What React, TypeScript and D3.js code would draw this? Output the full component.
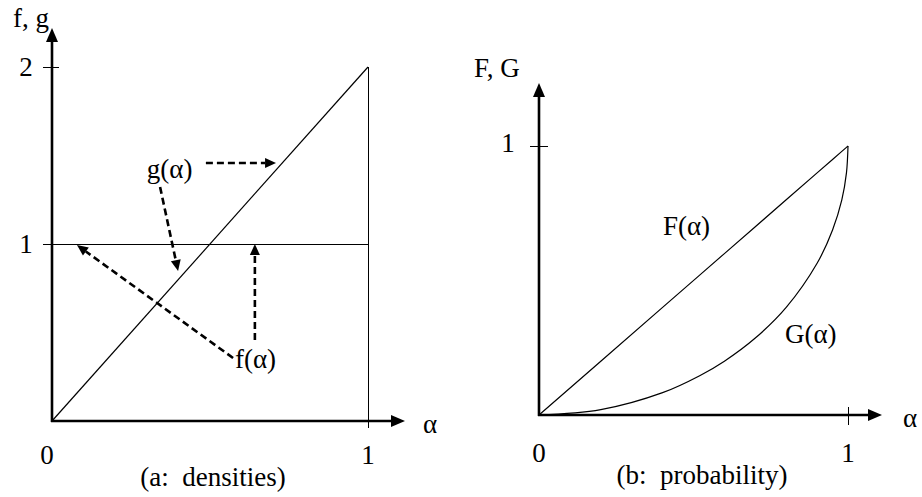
import React from "react";
import * as d3 from "d3";

// ---- data ----
// panel (a): densities
const densityAlpha = [0, 1];
const fValues = [1, 1];
const gValues = [0, 2];
const yTicksA = [1, 2];
const xTicksA = [0, 1];
// panel (b): cumulative probability
const cdfAlpha = [0, 0.2, 0.4, 0.52, 0.6, 0.7, 0.8, 0.9, 0.95, 0.98, 0.995, 1];
const Fvalues = [0, 0.2, 0.4, 0.52, 0.6, 0.7, 0.8, 0.9, 0.95, 0.98, 0.995, 1];
const Gvalues = [0, 0.02, 0.083, 0.146, 0.2, 0.286, 0.4, 0.564, 0.688, 0.8, 0.9, 1];
const yTicksB = [1];
const xTicksB = [0, 1];
// annotation arrows in data units: [fromAlpha, fromVal, toAlpha, toVal]
const arrowsA = [
  [0.487, 1.458, 0.709, 1.458],
  [0.342, 1.322, 0.399, 0.847],
  [0.642, 0.458, 0.642, 1.0],
  [0.573, 0.356, 0.079, 0.994],
];
const labelsA = [
  { text: "g(α)", a: 0.3, v: 1.373 },
  { text: "f(α)", a: 0.579, v: 0.3 },
];
const labelsB = [
  { text: "F(α)", a: 0.401, v: 0.669 },
  { text: "G(α)", a: 0.796, v: 0.268 },
];

const FONT = "'Liberation Serif', 'Times New Roman', serif";
const FS = 27;

function Arrow({ x1, y1, x2, y2, len = 12, half = 5.5, width = 2.4, dash }: any) {
  const ang = Math.atan2(y2 - y1, x2 - x1);
  const bx = x2 - len * Math.cos(ang);
  const by = y2 - len * Math.sin(ang);
  const px = -Math.sin(ang) * half;
  const py = Math.cos(ang) * half;
  return (
    <g>
      <line x1={x1} y1={y1} x2={bx} y2={by} stroke="#000" strokeWidth={width} strokeDasharray={dash} />
      <path d={`M${x2},${y2}L${bx + px},${by + py}L${bx - px},${by - py}Z`} fill="#000" />
    </g>
  );
}

export default function App() {
  // panel (a) scales
  const xA = d3.scaleLinear().domain([0, 1]).range([52, 368]);
  const yA = d3.scaleLinear().domain([0, 2]).range([421, 67]);
  // panel (b) scales
  const xB = d3.scaleLinear().domain([0, 1]).range([539, 848]);
  const yB = d3.scaleLinear().domain([0, 1]).range([415, 146]);

  const lineA = d3.line<number>().x((_, i) => xA(densityAlpha[i])).y((d) => yA(d));
  const lineB = d3
    .line<number>()
    .x((_, i) => xB(cdfAlpha[i]))
    .y((d) => yB(d))
    .curve(d3.curveCatmullRom.alpha(0.5));
  const lineF = d3.line<number>().x((_, i) => xB(cdfAlpha[i])).y((d) => yB(d));

  const txt = (props: any, s: string) => (
    <text fontFamily={FONT} fontSize={FS} fill="#000" style={{ whiteSpace: "pre" }} {...props}>
      {s}
    </text>
  );

  return (
    <svg width={922} height={497} style={{ position: "absolute", left: 0, top: 0, background: "#fff" }}>
      <rect width={922} height={497} fill="#fff" />
      {/* ---------- Panel (a) ---------- */}
      <path d={lineA(gValues) || ""} fill="none" stroke="#000" strokeWidth={1.2} />
      <path d={lineA(fValues) || ""} fill="none" stroke="#000" strokeWidth={1} shapeRendering="crispEdges" />
      {/* vertical drop at alpha = 1 */}
      <line x1={xA(1)} x2={xA(1)} y1={yA(2)} y2={yA(0) + 7} stroke="#000" strokeWidth={1} shapeRendering="crispEdges" />
      {/* axes */}
      <Arrow x1={xA(0)} y1={yA(0) + 1} x2={xA(0)} y2={28} len={14} half={6} width={2.6} />
      <Arrow x1={xA(0) - 1} y1={yA(0)} x2={405} y2={yA(0)} len={14} half={6} width={2.6} />
      {yTicksA.map((t) => (
        <g key={"ya" + t}>
          <line x1={xA(0) - 9} x2={xA(0) + 7} y1={yA(t)} y2={yA(t)} stroke="#000" strokeWidth={1} shapeRendering="crispEdges" />
          {txt({ x: 26, y: yA(t) + 9, textAnchor: "middle" }, String(t))}
        </g>
      ))}
      {xTicksA.map((t) => txt({ key: "xa" + t, x: xA(t) - (t === 0 ? 5 : 0), y: 464, textAnchor: "middle" }, String(t)))}
      {txt({ x: 13, y: 27 }, "f, g")}
      {txt({ x: 423, y: 433 }, "α")}
      {txt({ x: 213, y: 486, textAnchor: "middle" }, "(a:  densities)")}
      {arrowsA.map((a, i) => (
        <Arrow key={"aa" + i} x1={xA(a[0])} y1={yA(a[1])} x2={xA(a[2])} y2={yA(a[3])} len={11} half={5} width={2.6} dash="7,4" />
      ))}
      {labelsA.map((l) => txt({ key: l.text, x: xA(l.a), y: yA(l.v) }, l.text))}

      {/* ---------- Panel (b) ---------- */}
      <path d={lineF(Fvalues) || ""} fill="none" stroke="#000" strokeWidth={1.2} />
      <path d={lineB(Gvalues) || ""} fill="none" stroke="#000" strokeWidth={1.2} />
      <Arrow x1={xB(0)} y1={yB(0) + 1} x2={xB(0)} y2={83} len={14} half={6} width={2.6} />
      <Arrow x1={xB(0) - 1} y1={yB(0)} x2={882} y2={yB(0)} len={14} half={6} width={2.6} />
      {yTicksB.map((t) => (
        <g key={"yb" + t}>
          <line x1={xB(0) - 9} x2={xB(0) + 9} y1={yB(t)} y2={yB(t)} stroke="#000" strokeWidth={1} shapeRendering="crispEdges" />
          {txt({ x: 508, y: yB(t) + 6, textAnchor: "middle" }, String(t))}
        </g>
      ))}
      {xTicksB.map((t) => (
        <g key={"xb" + t}>
          {t !== 0 && <line x1={xB(t)} x2={xB(t)} y1={yB(0) - 8} y2={yB(0) + 10} stroke="#000" strokeWidth={1} shapeRendering="crispEdges" />}
          {txt({ x: xB(t), y: 462, textAnchor: "middle" }, String(t))}
        </g>
      ))}
      {txt({ x: 474, y: 77 }, "F, G")}
      {txt({ x: 903, y: 427 }, "α")}
      {txt({ x: 702, y: 484, textAnchor: "middle" }, "(b:  probability)")}
      {labelsB.map((l) => txt({ key: l.text, x: xB(l.a), y: yB(l.v) }, l.text))}
    </svg>
  );
}
